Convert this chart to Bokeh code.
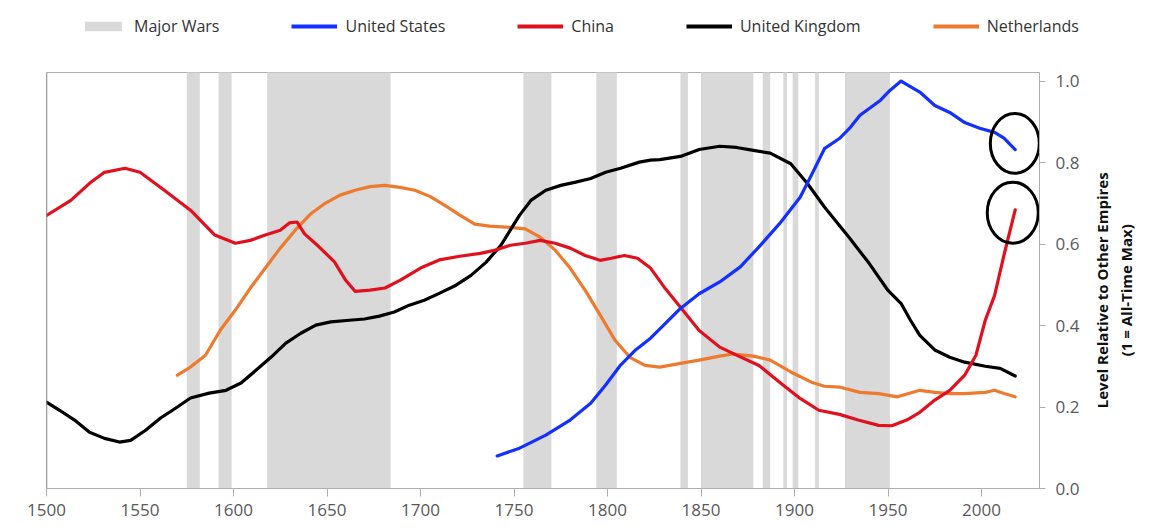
import math
from bokeh.plotting import figure
from bokeh.layouts import row
from bokeh.models import Range1d, FixedTicker, Legend, LegendItem, NumeralTickFormatter, Span, Label
from bokeh.embed import file_html
from bokeh.resources import INLINE

# Major war periods (start, end years)
war_start = [1575, 1592, 1618, 1755, 1794, 1839, 1850, 1883, 1894, 1899, 1911, 1927]
war_end = [1582, 1599, 1684, 1770, 1805, 1843, 1878, 1887, 1896, 1902, 1913, 1951]

china_years = [1500, 1513, 1523, 1531, 1542, 1550, 1563, 1577, 1590, 1601, 1609, 1617, 1625, 1630, 1634,
               1638, 1646, 1654, 1660, 1665, 1673, 1681, 1689, 1700, 1710, 1721, 1732, 1740, 1748, 1756,
               1764, 1772, 1780, 1788, 1796, 1802, 1809, 1816, 1823, 1831, 1839, 1849, 1860, 1871, 1881,
               1892, 1903, 1913, 1924, 1934, 1945, 1952, 1960, 1967, 1975, 1983, 1991, 1997, 2002, 2007,
               2012, 2018]
china_vals = [0.670, 0.707, 0.749, 0.776, 0.786, 0.776, 0.732, 0.683, 0.622, 0.602, 0.609, 0.622, 0.634, 0.652, 0.654,
              0.625, 0.592, 0.556, 0.511, 0.484, 0.487, 0.492, 0.511, 0.541, 0.561, 0.570, 0.577, 0.585, 0.597, 0.602,
              0.609, 0.602, 0.590, 0.572, 0.560, 0.565, 0.572, 0.565, 0.541, 0.490, 0.445, 0.388, 0.347, 0.323, 0.302,
              0.261, 0.221, 0.192, 0.182, 0.168, 0.155, 0.154, 0.168, 0.187, 0.217, 0.241, 0.278, 0.327, 0.413, 0.474,
              0.573, 0.684]

us_years = [1741, 1753, 1767, 1780, 1791, 1799, 1807, 1815, 1823, 1828, 1839, 1849, 1860, 1871, 1881, 1892,
            1903, 1909, 1916, 1924, 1930, 1935, 1946, 1951, 1957, 1961, 1967, 1975, 1983, 1991, 1999, 2007,
            2012, 2018]
us_vals = [0.080, 0.099, 0.131, 0.168, 0.209, 0.254, 0.303, 0.340, 0.369, 0.392, 0.442, 0.478, 0.507, 0.544,
           0.593, 0.650, 0.715, 0.769, 0.834, 0.859, 0.887, 0.916, 0.953, 0.977, 1.000, 0.989, 0.973, 0.940,
           0.923, 0.898, 0.884, 0.874, 0.860, 0.832]

uk_years = [1500, 1507, 1515, 1523, 1531, 1539, 1545, 1553, 1561, 1569, 1577, 1587, 1596, 1604, 1612, 1620,
            1628, 1636, 1644, 1652, 1662, 1670, 1678, 1686, 1694, 1702, 1710, 1719, 1727, 1735, 1743, 1748,
            1753, 1759, 1767, 1775, 1783, 1791, 1799, 1807, 1817, 1823, 1828, 1839, 1849, 1860, 1869, 1878,
            1887, 1898, 1907, 1916, 1929, 1940, 1950, 1957, 1962, 1967, 1975, 1983, 1991, 2002, 2010, 2018]
uk_vals = [0.212, 0.192, 0.168, 0.138, 0.123, 0.114, 0.118, 0.143, 0.173, 0.197, 0.222, 0.234, 0.241, 0.259,
           0.290, 0.322, 0.357, 0.381, 0.401, 0.409, 0.413, 0.416, 0.423, 0.433, 0.450, 0.462, 0.479, 0.499,
           0.523, 0.555, 0.597, 0.634, 0.671, 0.707, 0.732, 0.744, 0.752, 0.761, 0.776, 0.786, 0.801, 0.806,
           0.807, 0.815, 0.832, 0.840, 0.837, 0.830, 0.823, 0.797, 0.748, 0.691, 0.617, 0.552, 0.486, 0.454,
           0.413, 0.376, 0.340, 0.322, 0.310, 0.300, 0.295, 0.276]

nl_years = [1570, 1577, 1585, 1593, 1601, 1609, 1617, 1625, 1633, 1641, 1649, 1657, 1665, 1673, 1681, 1689,
            1697, 1705, 1713, 1721, 1729, 1737, 1748, 1756, 1764, 1772, 1780, 1788, 1796, 1804, 1812, 1820,
            1828, 1839, 1849, 1860, 1867, 1878, 1887, 1898, 1909, 1916, 1924, 1935, 1945, 1955, 1961, 1967,
            1975, 1983, 1991, 2002, 2007, 2012, 2018]
nl_vals = [0.278, 0.298, 0.327, 0.389, 0.438, 0.492, 0.541, 0.590, 0.634, 0.673, 0.700, 0.720, 0.732, 0.741,
           0.744, 0.739, 0.732, 0.717, 0.695, 0.671, 0.649, 0.644, 0.641, 0.637, 0.617, 0.585, 0.541, 0.487,
           0.426, 0.364, 0.322, 0.302, 0.298, 0.307, 0.315, 0.325, 0.330, 0.325, 0.315, 0.286, 0.261, 0.251,
           0.249, 0.236, 0.233, 0.225, 0.233, 0.241, 0.236, 0.233, 0.233, 0.236, 0.241, 0.233, 0.225]

# Highlight rings around the latest readings: centre year, centre level, size
ring_x = [2017.8, 2016.7]
ring_y = [0.847, 0.677]
ring_w = [26.2, 27.3]
ring_h = [0.147, 0.150]

x_ticks = [1500, 1550, 1600, 1650, 1700, 1750, 1800, 1850, 1900, 1950, 2000]
y_ticks = [0.0, 0.2, 0.4, 0.6, 0.8, 1.0]
y_title = "Level Relative to Other Empires\n(1 = All-Time Max)"

FONT = "Open Sans"
GRAY_TXT = "#595959"
AXIS_GRAY = "#b0b0b0"
WAR_FILL = "#d9d9d9"
COLORS = {"us": "#1430ff", "cn": "#e0101f", "uk": "#000000", "nl": "#ee7a2e"}
LW = 3.2

KEY_H = 60          # height of the key strip
MAIN_W = 1084       # chart width, the rest holds the axis title
TITLE_W = 1153 - MAIN_W

# ---- main chart ----
p = figure(width=MAIN_W, height=532 - KEY_H, output_backend="svg", toolbar_location=None,
           x_range=Range1d(1500, 2031), y_range=Range1d(0, 1.021),
           y_axis_location="right",
           min_border_left=46, min_border_right=45, min_border_top=72 - KEY_H, min_border_bottom=44)
p.background_fill_color = "white"
p.border_fill_color = "white"
p.outline_line_color = AXIS_GRAY
p.outline_line_width = 1
p.xgrid.visible = False
p.ygrid.visible = False

p.quad(left=war_start, right=war_end, bottom=0, top=1.1, fill_color=WAR_FILL, line_color=None)

p.add_layout(Span(location=1500, dimension="height", line_color="#8a8a8a", line_width=1.5))

p.line(nl_years, nl_vals, line_color=COLORS["nl"], line_width=LW, line_join="round", line_cap="round")
p.line(uk_years, uk_vals, line_color=COLORS["uk"], line_width=LW, line_join="round", line_cap="round")
p.line(china_years, china_vals, line_color=COLORS["cn"], line_width=LW, line_join="round", line_cap="round")
p.line(us_years, us_vals, line_color=COLORS["us"], line_width=LW, line_join="round", line_cap="round")

p.ellipse(x=ring_x, y=ring_y, width=ring_w, height=ring_h,
          fill_color=None, line_color="black", line_width=3)

xa = p.xaxis[0]
xa.ticker = FixedTicker(ticks=x_ticks)
xa.axis_line_color = AXIS_GRAY
xa.major_tick_line_color = AXIS_GRAY
xa.major_tick_out = 8
xa.major_tick_in = 0
xa.minor_tick_line_color = None
xa.major_label_text_font = FONT
xa.major_label_text_font_size = "17px"
xa.major_label_text_color = GRAY_TXT
xa.major_label_standoff = 7

ya = p.yaxis[0]
ya.ticker = FixedTicker(ticks=y_ticks)
ya.formatter = NumeralTickFormatter(format="0.0")
ya.axis_line_color = AXIS_GRAY
ya.major_tick_line_color = AXIS_GRAY
ya.major_tick_out = 6
ya.major_tick_in = 0
ya.minor_tick_line_color = None
ya.major_label_text_font = FONT
ya.major_label_text_font_size = "17px"
ya.major_label_text_color = GRAY_TXT
ya.major_label_standoff = 10

# ---- axis title panel to the right of the chart ----
t = figure(width=TITLE_W, height=532 - KEY_H, output_backend="svg", toolbar_location=None,
           x_range=Range1d(0, TITLE_W), y_range=p.y_range,
           min_border_left=0, min_border_right=0, min_border_top=72 - KEY_H, min_border_bottom=44)
t.axis.visible = False
t.grid.visible = False
t.outline_line_color = None
t.background_fill_color = "white"
t.border_fill_color = "white"
t.add_layout(Label(x=29, y=0.4865, text=y_title, angle=math.pi / 2,
                   text_align="center", text_baseline="middle",
                   text_font=FONT, text_font_size="15px", text_font_style="bold",
                   text_color="#111111", text_line_height=1.2))

# ---- key strip above the chart ----
lg = figure(width=1153, height=KEY_H, output_backend="svg", toolbar_location=None,
            x_range=Range1d(0, 1), y_range=Range1d(0, 1), min_border=0)
lg.axis.visible = False
lg.grid.visible = False
lg.outline_line_color = None
lg.background_fill_color = "white"
lg.border_fill_color = "white"

# key swatches sit outside the visible range; only their legend glyphs show
k_war = lg.quad(left=[2], right=[3], bottom=[2], top=[3], fill_color=WAR_FILL, line_color=None)
k_us = lg.line([2, 3], [2, 2], line_color=COLORS["us"], line_width=4)
k_cn = lg.line([2, 3], [2, 2], line_color=COLORS["cn"], line_width=4)
k_uk = lg.line([2, 3], [2, 2], line_color=COLORS["uk"], line_width=4)
k_nl = lg.line([2, 3], [2, 2], line_color=COLORS["nl"], line_width=4)

legend = Legend(items=[
    LegendItem(label="Major Wars", renderers=[k_war]),
    LegendItem(label="United States", renderers=[k_us]),
    LegendItem(label="China", renderers=[k_cn]),
    LegendItem(label="United Kingdom", renderers=[k_uk]),
    LegendItem(label="Netherlands", renderers=[k_nl]),
], orientation="horizontal", location=(80, KEY_H - 37))
legend.padding = 0
legend.margin = 0
legend.spacing = 72
legend.label_standoff = 8
legend.glyph_width = 46
legend.glyph_height = 12
legend.label_height = 20
legend.label_text_font = FONT
legend.label_text_font_size = "16px"
legend.label_text_color = "#333333"
legend.border_line_alpha = 0
legend.background_fill_alpha = 0
lg.add_layout(legend, "center")

open("out.html", "w").write(file_html([lg, row(p, t, spacing=0)], INLINE))
